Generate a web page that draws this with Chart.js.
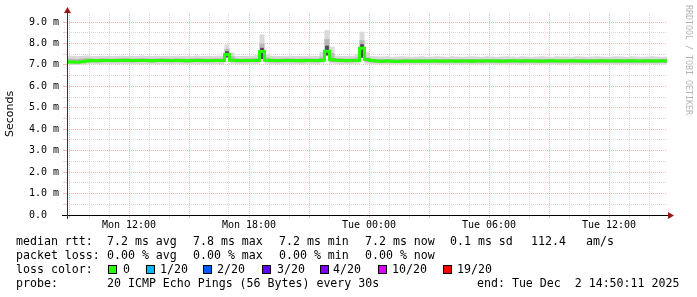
<!DOCTYPE html>
<html><head><meta charset="utf-8">
<script src="https://cdn.jsdelivr.net/npm/chart.js@4/dist/chart.umd.min.js"></script>
<style>html,body{margin:0;padding:0;background:#fff;overflow:hidden}canvas{display:block}</style>
</head><body>
<canvas id="c" width="697" height="297"></canvas>
<script>
// time axis in hours since Mon 00:00
const START_HOUR = 8.9;
const STEP_HOURS = 0.25;
const SPAN_HOURS = 30;

const medianRtt = [
 7.15,7.13,7.12,7.15,7.18,7.20,7.19,7.20,7.21,7.20,
 7.20,7.21,7.22,7.20,7.20,7.21,7.20,7.19,7.20,7.21,
 7.20,7.20,7.21,7.20,7.19,7.20,7.21,7.20,7.20,7.21,
 7.20,7.21,7.48,7.22,7.21,7.20,7.20,7.21,7.21,7.62,
 7.22,7.21,7.20,7.20,7.21,7.20,7.20,7.19,7.20,7.20,
 7.20,7.22,7.64,7.24,7.22,7.20,7.21,7.20,7.21,7.78,
 7.25,7.20,7.18,7.17,7.18,7.17,7.16,7.17,7.18,7.17,
 7.17,7.18,7.17,7.18,7.18,7.17,7.18,7.18,7.17,7.18,
 7.18,7.17,7.18,7.18,7.19,7.18,7.18,7.17,7.18,7.19,
 7.18,7.18,7.19,7.18,7.18,7.17,7.18,7.19,7.18,7.18,
 7.18,7.19,7.18,7.18,7.17,7.18,7.18,7.19,7.18,7.18,
 7.19,7.18,7.18,7.19,7.18,7.18,7.19,7.18,7.18,7.19,7.18];

const smokeMax = [
 7.42,7.43,7.41,7.42,7.44,7.42,7.41,7.43,7.42,7.41,
 7.42,7.43,7.41,7.42,7.42,7.44,7.41,7.42,7.43,7.41,
 7.42,7.41,7.43,7.42,7.41,7.42,7.44,7.42,7.41,7.42,
 7.43,7.42,7.95,7.58,7.42,7.41,7.42,7.43,7.46,8.42,
 7.50,7.43,7.42,7.41,7.42,7.43,7.42,7.41,7.42,7.43,
 7.42,7.60,8.62,7.85,7.43,7.42,7.41,7.42,7.50,8.55,
 7.60,7.41,7.40,7.39,7.40,7.38,7.39,7.40,7.39,7.38,
 7.39,7.40,7.38,7.39,7.40,7.39,7.38,7.40,7.39,7.38,
 7.39,7.40,7.39,7.38,7.40,7.39,7.38,7.39,7.40,7.39,
 7.38,7.40,7.39,7.38,7.39,7.40,7.39,7.38,7.40,7.39,
 7.39,7.38,7.40,7.39,7.38,7.39,7.40,7.39,7.38,7.39,
 7.40,7.39,7.38,7.40,7.39,7.38,7.39,7.40,7.39,7.38,7.39];

const smokeMin = [
 7.02,7.00,7.00,7.01,7.03,7.04,7.03,7.04,7.03,7.04,
 7.03,7.04,7.04,7.03,7.04,7.03,7.04,7.04,7.03,7.04,
 7.04,7.03,7.04,7.04,7.03,7.04,7.03,7.04,7.04,7.03,
 7.04,7.03,7.36,7.05,7.04,7.03,7.04,7.04,7.04,7.28,
 7.05,7.04,7.03,7.04,7.04,7.03,7.04,7.03,7.04,7.04,
 7.03,7.06,7.45,7.06,7.04,7.03,7.04,7.04,7.05,7.35,
 7.05,7.03,7.03,7.02,7.03,7.02,7.03,7.02,7.03,7.02,
 7.03,7.02,7.03,7.03,7.02,7.03,7.02,7.03,7.03,7.02,
 7.03,7.02,7.03,7.02,7.03,7.03,7.02,7.03,7.02,7.03,
 7.03,7.02,7.03,7.03,7.02,7.03,7.02,7.03,7.03,7.02,
 7.03,7.02,7.03,7.02,7.03,7.03,7.02,7.03,7.02,7.03,
 7.02,7.03,7.03,7.02,7.03,7.02,7.03,7.03,7.02,7.03,7.02];

const smokeUpper = [
 7.30,7.29,7.28,7.30,7.31,7.30,7.29,7.31,7.30,7.29,
 7.30,7.31,7.30,7.29,7.30,7.31,7.30,7.29,7.30,7.31,
 7.30,7.29,7.31,7.30,7.29,7.30,7.31,7.30,7.29,7.30,
 7.31,7.30,7.75,7.40,7.30,7.29,7.30,7.31,7.32,8.00,
 7.34,7.30,7.29,7.30,7.31,7.30,7.29,7.30,7.31,7.30,
 7.29,7.38,8.20,7.55,7.31,7.30,7.29,7.30,7.34,8.15,
 7.36,7.29,7.28,7.27,7.28,7.27,7.28,7.27,7.28,7.27,
 7.28,7.27,7.28,7.28,7.27,7.28,7.27,7.28,7.28,7.27,
 7.28,7.27,7.28,7.27,7.28,7.28,7.27,7.28,7.27,7.28,
 7.28,7.27,7.28,7.28,7.27,7.28,7.27,7.28,7.28,7.27,
 7.28,7.27,7.28,7.27,7.28,7.28,7.27,7.28,7.27,7.28,
 7.27,7.28,7.28,7.27,7.28,7.27,7.28,7.28,7.27,7.28,7.27];

const smokeLower = [
 7.10,7.08,7.07,7.09,7.11,7.12,7.11,7.12,7.13,7.12,
 7.12,7.13,7.12,7.11,7.12,7.13,7.12,7.11,7.12,7.13,
 7.12,7.11,7.13,7.12,7.11,7.12,7.13,7.12,7.11,7.12,
 7.13,7.12,7.40,7.13,7.12,7.11,7.12,7.13,7.12,7.40,
 7.13,7.12,7.11,7.12,7.13,7.12,7.11,7.12,7.13,7.12,
 7.11,7.14,7.50,7.14,7.13,7.12,7.11,7.12,7.13,7.45,
 7.13,7.11,7.10,7.09,7.10,7.09,7.10,7.09,7.10,7.09,
 7.10,7.09,7.10,7.10,7.09,7.10,7.09,7.10,7.10,7.09,
 7.10,7.09,7.10,7.09,7.10,7.10,7.09,7.10,7.09,7.10,
 7.10,7.09,7.10,7.10,7.09,7.10,7.09,7.10,7.10,7.09,
 7.10,7.09,7.10,7.09,7.10,7.10,7.09,7.10,7.09,7.10,
 7.09,7.10,7.10,7.09,7.10,7.09,7.10,7.10,7.09,7.10,7.09];

// dense (dark) smoke at the four latency spikes, by sample index
const spikeIndex = [32, 39, 52, 59];
const spikeCoreLow = [7.36, 7.28, 7.45, 7.35];
const spikeCoreHigh = [7.62, 7.78, 7.88, 7.95];

const hourTicks = [9,10,11,12,13,14,15,16,17,18,19,20,21,22,23,24,25,26,27,28,29,30,31,32,33,34,35,36,37,38];
const timeLabels = {12:'Mon 12:00', 18:'Mon 18:00', 24:'Tue 00:00', 30:'Tue 06:00', 36:'Tue 12:00'};
const yTicks = [0,0.5,1,1.5,2,2.5,3,3.5,4,4.5,5,5.5,6,6.5,7,7.5,8,8.5,9];

const rttStats = ['7.2 ms avg','7.8 ms max','7.2 ms min','7.2 ms now','0.1 ms sd','112.4','am/s'];
const lossStats = ['0.00 % avg','0.00 % max','0.00 % min','0.00 % now'];
const lossLabels = ['0','1/20','2/20','3/20','4/20','10/20','19/20'];
const lossColors = ['#26ff00','#00b8ff','#0059ff','#5e00ff','#7e00ff','#dd00ff','#ff0000'];
const probeText = '20 ICMP Echo Pings (56 Bytes) every 30s';
const endText = 'end: Tue Dec  2 14:50:11 2025';
const watermark = 'RRDTOOL / TOBI OETIKER';

const times = medianRtt.map((_, i) => START_HOUR + i * STEP_HOURS);
const pts = arr => arr.map((v, i) => ({x: times[i], y: v}));
const corePts = spikeIndex.map((k, i) => ({x: times[k], y: [spikeCoreLow[i], spikeCoreHigh[i]]}));

const MONO = '"DejaVu Sans Mono", monospace';
const RED = 'rgba(255,60,60,0.38)';
const GREY = 'rgba(0,0,0,0.15)';

const decor = {
  id: 'decor',
  afterDraw(chart) {
    const ctx = chart.ctx;
    const a = chart.chartArea;
    ctx.save();
    // x axis
    ctx.strokeStyle = '#000'; ctx.lineWidth = 1;
    ctx.beginPath(); ctx.moveTo(62, a.bottom + 0.5); ctx.lineTo(669, a.bottom + 0.5); ctx.stroke();
    ctx.fillStyle = '#9a1818';
    ctx.beginPath(); ctx.moveTo(668, a.bottom - 3); ctx.lineTo(674, a.bottom + 0.5); ctx.lineTo(668, a.bottom + 4); ctx.closePath(); ctx.fill();
    // y axis
    ctx.strokeStyle = '#333';
    ctx.beginPath(); ctx.moveTo(a.left + 0.5, a.bottom + 4); ctx.lineTo(a.left + 0.5, 11); ctx.stroke();
    ctx.fillStyle = '#9a1818';
    ctx.beginPath(); ctx.moveTo(a.left - 3, 13); ctx.lineTo(a.left + 0.5, 7); ctx.lineTo(a.left + 4, 13); ctx.closePath(); ctx.fill();

    // legend
    ctx.fillStyle = '#000';
    ctx.font = '11.6px ' + MONO;
    ctx.textBaseline = 'alphabetic';
    ctx.textAlign = 'left';
    ctx.fillText('median rtt:', 16, 245);
    const rx = [107, 193, 279, 365, 450, 531, 586];
    rttStats.forEach((t, i) => ctx.fillText(t, rx[i], 245));
    ctx.fillText('packet loss:', 16, 259);
    lossStats.forEach((t, i) => ctx.fillText(t, rx[i], 259));
    ctx.fillText('loss color:', 16, 273);
    const bx = [108, 146, 203, 262, 320, 378, 443];
    const lx = [123, 160, 217, 277, 333, 392, 457];
    lossLabels.forEach((t, i) => {
      ctx.fillStyle = lossColors[i];
      ctx.fillRect(bx[i], 265, 8, 8);
      ctx.strokeStyle = '#000';
      ctx.strokeRect(bx[i] + 0.5, 265.5, 8, 8);
      ctx.fillStyle = '#000';
      ctx.fillText(t, lx[i], 273);
    });
    ctx.fillText('probe:', 16, 287);
    ctx.fillText(probeText, 107, 287);
    ctx.fillText(endText, 477, 287);

    // watermark
    ctx.translate(688, 5);
    ctx.rotate(Math.PI / 2);
    ctx.font = '8.3px ' + MONO;
    ctx.fillStyle = '#b4b4b4';
    ctx.textBaseline = 'middle';
    ctx.fillText(watermark, 0, 0);
    ctx.restore();
  }
};

const gridColor = (ctx, major) => (ctx.tick && Math.abs(ctx.tick.value % major) < 1e-6) ? RED : GREY;

new Chart(document.getElementById('c'), {
  type: 'line',
  data: {
    datasets: [
      {data: pts(smokeMax), fill: '+1', backgroundColor: '#d9d9d9', borderWidth: 0, stepped: 'middle', order: 4},
      {data: pts(smokeMin), fill: false, borderWidth: 0, stepped: 'middle', order: 4},
      {data: pts(smokeUpper), fill: '+1', backgroundColor: '#b8b8b8', borderWidth: 0, stepped: 'middle', order: 3},
      {data: pts(smokeLower), fill: false, borderWidth: 0, stepped: 'middle', order: 3},
      {type: 'bar', data: corePts, backgroundColor: '#4a4a4a', barThickness: 3, borderWidth: 0, order: 2},
      {data: pts(medianRtt), fill: false, borderColor: '#26ff00', borderWidth: 3, stepped: 'middle', order: 0}
    ]
  },
  options: {
    responsive: false,
    animation: false,
    devicePixelRatio: 1,
    layout: {padding: {left: 0, top: 13, right: 30, bottom: 0}},
    elements: {point: {radius: 0}, line: {tension: 0}},
    plugins: {legend: {display: false}, tooltip: {enabled: false}, filler: {drawTime: 'beforeDatasetDraw'}},
    scales: {
      x: {
        type: 'linear', min: START_HOUR, max: START_HOUR + SPAN_HOURS, offset: false,
        afterBuildTicks: s => { s.ticks = hourTicks.map(v => ({value: v})); },
        afterFit: s => { s.height = 82; },
        grid: {color: c => gridColor(c, 3), tickLength: 3, lineWidth: 1, offset: false},
        border: {display: false, dash: [1, 1]},
        ticks: {autoSkip: false, maxRotation: 0, padding: 1, color: '#000', font: {family: MONO, size: 10},
                callback: v => timeLabels[v] || ''}
      },
      y: {
        min: 0, max: 9.42, beginAtZero: true,
        afterBuildTicks: s => { s.ticks = yTicks.map(v => ({value: v})); },
        afterFit: s => { s.width = 67; },
        title: {display: true, text: 'Seconds', color: '#000', font: {family: '"DejaVu Sans", sans-serif', size: 11}, padding: {top: 4, bottom: 0}},
        grid: {color: c => gridColor(c, 1), tickLength: 4, lineWidth: 1},
        border: {display: false, dash: [1, 1]},
        ticks: {autoSkip: false, padding: 4, color: '#000', font: {family: MONO, size: 10},
                callback: v => (Math.abs(v % 1) < 1e-6) ? (v === 0 ? '0.0  ' : v.toFixed(1) + ' m') : ''}
      }
    }
  },
  plugins: [decor]
});
</script>
</body></html>
